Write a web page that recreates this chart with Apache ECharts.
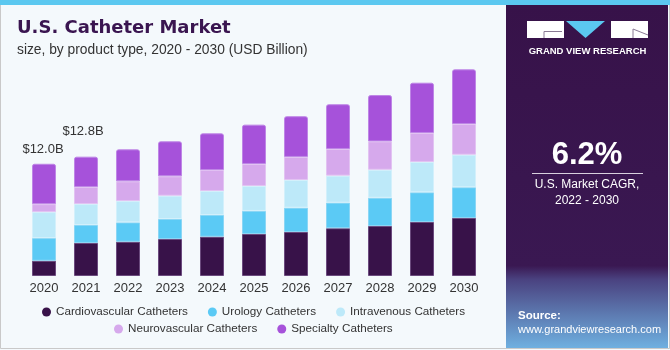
<!DOCTYPE html>
<html>
<head>
<meta charset="utf-8">
<script src="https://cdn.jsdelivr.net/npm/echarts@6/dist/echarts.min.js"></script>
<style>
  html, body { margin: 0; padding: 0; background: #f4f9fc; }
  #main { width: 670px; height: 350px; }
</style>
</head>
<body>
<div id="main"></div>
<script>
// years on the x axis
var years = ['2020', '2021', '2022', '2023', '2024', '2025', '2026', '2027', '2028', '2029', '2030'];

// USD Billion
var cardiovascular = [1.63, 3.53, 3.66, 3.95, 4.20, 4.49, 4.70, 5.10, 5.34, 5.77, 6.20];
var urology        = [2.42, 1.92, 2.07, 2.14, 2.32, 2.46, 2.60, 2.74, 3.02, 3.17, 3.28];
var intravenous    = [2.78, 2.24, 2.28, 2.49, 2.56, 2.67, 2.96, 2.88, 2.99, 3.24, 3.48];
var neurovascular  = [0.85, 1.82, 2.10, 2.07, 2.24, 2.35, 2.46, 2.85, 3.03, 3.10, 3.28];
var specialty      = [4.31, 3.24, 3.42, 3.74, 3.92, 4.20, 4.35, 4.78, 4.95, 5.37, 5.84];

// labelled totals (only first two years carry a label)
var totalLabels = ['$12.0B', '$12.8B'];

var seriesNames = ['Cardiovascular Catheters', 'Urology Catheters', 'Intravenous Catheters',
                   'Neurovascular Catheters', 'Specialty Catheters'];
var seriesData = [cardiovascular, urology, intravenous, neurovascular, specialty];
var colors = ['#381249', '#5bcaf5', '#bde9f9', '#d6a9ec', '#a652da'];
var borders = ['#6b4a7e', '#8ad6f5', '#d3f0fb', '#e2c3f2', '#be86e6'];

var font = 'Liberation Sans, Arial, sans-serif';
var myChart = echarts.init(document.getElementById('main'));

var series = seriesNames.map(function(name, i) {
    var last = i === seriesNames.length - 1;
    return {
        name: name,
        type: 'bar',
        stack: 'total',
        barWidth: 24,
        itemStyle: {
            color: colors[i],
            borderColor: borders[i],
            borderWidth: 1,
            borderRadius: last ? [2, 2, 0, 0] : 0
        },
        data: seriesData[i].map(function(v, j) {
            if (last && j < totalLabels.length) {
                return {
                    value: v,
                    label: {
                        show: true,
                        position: 'top',
                        distance: j === 0 ? 8 : 19,
                        offset: [j === 0 ? -1 : -3, 0],
                        formatter: totalLabels[j],
                        color: '#333',
                        fontSize: 13,
                        fontFamily: font
                    }
                };
            }
            return v;
        })
    };
});

var legendText = { color: '#333', fontSize: 11.7, fontFamily: font };

option = {
    backgroundColor: '#f4f9fc',
    animation: false,
    textStyle: { fontFamily: font },
    grid: { left: 23, right: 185, top: 42, bottom: 74 },
    xAxis: {
        type: 'category',
        data: years,
        axisLine: { show: false },
        axisTick: { show: false },
        axisLabel: { color: '#333', fontSize: 13, margin: 6, fontFamily: font }
    },
    yAxis: {
        type: 'value',
        min: 0,
        max: 25,
        show: false,
        splitLine: { show: false }
    },
    legend: [{
        data: seriesNames.slice(0, 3),
        left: 37,
        top: 301,
        icon: 'circle',
        itemWidth: 9,
        itemHeight: 9,
        itemGap: 20,
        itemStyle: { borderWidth: 0 },
        textStyle: legendText
    }, {
        data: seriesNames.slice(3),
        left: 109,
        top: 318,
        icon: 'circle',
        itemWidth: 9,
        itemHeight: 9,
        itemGap: 20,
        itemStyle: { borderWidth: 0 },
        textStyle: legendText
    }],
    graphic: [
        // frame and top strip
        { type: 'rect', shape: { x: 0.5, y: 0.5, width: 669, height: 348 }, style: { fill: 'none', stroke: '#c9c9c9', lineWidth: 1 }, z: -1 },
        { type: 'rect', shape: { x: 0, y: 0, width: 670, height: 5 }, style: { fill: '#5bc8f0' } },
        // right panel
        {
            type: 'rect',
            shape: { x: 506, y: 5, width: 162, height: 343 },
            style: {
                fill: new echarts.graphic.LinearGradient(0, 0, 0, 1, [
                    { offset: 0, color: '#371249' },
                    { offset: 0.76, color: '#3a1852' },
                    { offset: 0.8, color: '#4a4280' },
                    { offset: 1, color: '#6fb0e0' }
                ])
            }
        },
        // logo
        { type: 'rect', shape: { x: 527, y: 21, width: 37, height: 17 }, style: { fill: '#fff' } },
        { type: 'polyline', shape: { points: [[544, 38], [544, 31.5], [562, 31.5]] }, style: { stroke: '#8a7a95', lineWidth: 1, fill: 'none' } },
        { type: 'polygon', shape: { points: [[566, 21], [605, 21], [585.5, 38]] }, style: { fill: '#5bc8f0' } },
        { type: 'rect', shape: { x: 611, y: 21, width: 37, height: 17 }, style: { fill: '#fff' } },
        { type: 'polyline', shape: { points: [[633, 38], [633, 29], [648, 35]] }, style: { stroke: '#8a7a95', lineWidth: 1, fill: 'none' } },
        { type: 'text', style: { x: 587.5, y: 51, text: 'GRAND VIEW RESEARCH', fill: '#fff', font: 'bold 9.5px ' + font, textAlign: 'center', textVerticalAlign: 'middle' } },
        // CAGR block
        { type: 'text', style: { x: 587, y: 155.5, text: '6.2%', fill: '#fff', font: 'bold 31px ' + font, textAlign: 'center', textVerticalAlign: 'middle' } },
        { type: 'line', shape: { x1: 532, y1: 173.5, x2: 643, y2: 173.5 }, style: { stroke: '#d8d0de', lineWidth: 1 } },
        { type: 'text', style: { x: 587, y: 185, text: 'U.S. Market CAGR,', fill: '#fff', font: '12px ' + font, textAlign: 'center', textVerticalAlign: 'middle' } },
        { type: 'text', style: { x: 587, y: 201, text: '2022 - 2030', fill: '#fff', font: '12px ' + font, textAlign: 'center', textVerticalAlign: 'middle' } },
        // source
        { type: 'text', style: { x: 518, y: 316, text: 'Source:', fill: '#fff', font: 'bold 11.5px ' + font, textVerticalAlign: 'middle' } },
        { type: 'text', style: { x: 518, y: 329.5, text: 'www.grandviewresearch.com', fill: '#fff', font: '11px ' + font, textVerticalAlign: 'middle' } },
        // title
        { type: 'text', style: { x: 17, y: 28.5, text: 'U.S. Catheter Market', fill: '#3a1550', font: 'bold 18px DejaVu Sans, ' + font, textVerticalAlign: 'middle' } },
        { type: 'text', style: { x: 17, y: 50, text: 'size, by product type, 2020 - 2030 (USD Billion)', fill: '#333', font: '13.8px ' + font, textVerticalAlign: 'middle' } }
    ],
    series: series
};

myChart.setOption(option);
</script>
</body>
</html>
